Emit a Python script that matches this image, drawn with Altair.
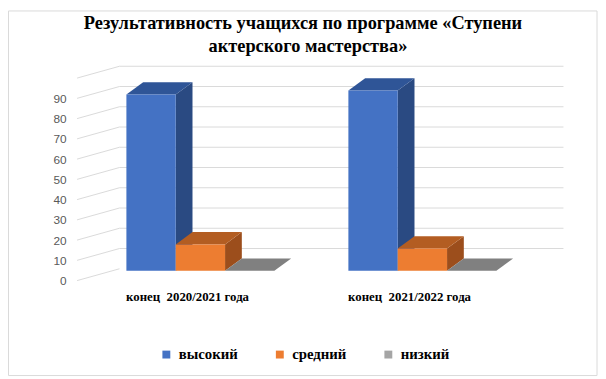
import altair as alt
import pandas as pd

# ---- data ----
categories = ["конец  2020/2021 года", "конец  2021/2022 года"]
series = ["высокий", "средний", "низкий"]
val_high = [87, 89]
val_mid = [13, 11]
val_low = [0, 0]
y_ticks = [0, 10, 20, 30, 40, 50, 60, 70, 80, 90]
grid_levels = [0, 10, 20, 30, 40, 50, 60, 70, 80, 90, 100]

front_colors = ["#4472C4", "#ED7D31", "#A5A5A5"]
top_colors = ["#2F5597", "#B35D22", "#808080"]
side_colors = ["#2A4A82", "#9C4E1C", "#6E6E6E"]

title_line1 = "Результативность учащихся по программе «Ступени"
title_line2 = "актерского мастерства»"

# ---- geometry (data units) ----
W, H = 520, 234
X_DOM = [0, 10.4]      # 50 px per unit
Y_DOM = [-4, 110]
PXY = H / (Y_DOM[1] - Y_DOM[0])
DX = 17 / 50.0          # bar depth offset, x units
DY = 12.5 / PXY         # bar depth offset, y units
BASE = 10 / PXY         # bars' front bottom sits behind the front edge
X0, GAP = 1.16, 4.5
GX0, GX1, GX2 = 0.16, 1.02, 10.02
GDY = 12 / PXY

values = [val_high, val_mid, val_low]
front, side, top = [], [], []
for g, cat in enumerate(categories):
    for s, ser in enumerate(series):
        v = values[s][g]
        xl = X0 + g * GAP + s
        xr = xl + 1
        bid = f"{g}-{s}"
        front.append(dict(series=ser, xl=xl, xr=xr, y0=BASE, y1=BASE + v))
        side.append(dict(bid=bid, c=side_colors[s], u=xr, t=BASE + v, b=BASE))
        side.append(dict(bid=bid, c=side_colors[s], u=xr + DX, t=BASE + v + DY, b=BASE + DY))
        top.append(dict(bid=bid, c=top_colors[s], yv=BASE + v, xa=xl, xb=xr))
        top.append(dict(bid=bid, c=top_colors[s], yv=BASE + v + DY, xa=xl + DX, xb=xr + DX))

front_df = pd.DataFrame(front)
side_df = pd.DataFrame(side)
top_df = pd.DataFrame(top)

diag_df = pd.DataFrame([dict(x=GX0, x2=GX1, y=lv, y2=lv + GDY) for lv in grid_levels])
horiz_df = pd.DataFrame([dict(x=GX1, x2=GX2, y=lv + GDY) for lv in grid_levels if lv > 0])
lab_df = pd.DataFrame([dict(cat=c.replace("  ", "\u00a0 "), x=X0 + g * GAP + 1.24)
                       for g, c in enumerate(categories)])

xs = alt.Scale(domain=X_DOM, nice=False, zero=False)
ys = alt.Scale(domain=Y_DOM, nice=False, zero=False)

one = pd.DataFrame({"a": [0]})

border = alt.Chart(one).mark_rect(
    fill=None, stroke="#D9D9D9", strokeWidth=1
).encode(x=alt.value(-61.5), x2=alt.value(535), y=alt.value(-47.5), y2=alt.value(322))

title1 = alt.Chart(one).mark_text(
    text=title_line1, font="Liberation Serif", fontSize=18.6, fontWeight="bold",
    color="#000000", align="center", baseline="alphabetic"
).encode(x=alt.value(237), y=alt.value(-29))
title2 = alt.Chart(one).mark_text(
    text=title_line2, font="Liberation Serif", fontSize=18.6, fontWeight="bold",
    color="#000000", align="center", baseline="alphabetic"
).encode(x=alt.value(242), y=alt.value(-6))

yaxis = alt.Axis(values=y_ticks, tickCount=len(y_ticks), grid=False, domain=False,
                 ticks=False, title=None, labelColor="#595959",
                 labelFont="Liberation Sans", labelFontSize=12,
                 labelPadding=3, labelOverlap=False, labelBound=False)

diag = alt.Chart(diag_df).mark_rule(color="#D9D9D9", strokeWidth=1).encode(
    x=alt.X("x:Q", scale=xs, axis=None), x2="x2:Q",
    y=alt.Y("y:Q", scale=ys, axis=yaxis),
    y2="y2:Q")

horiz = alt.Chart(horiz_df).mark_rule(color="#D9D9D9", strokeWidth=1).encode(
    x=alt.X("x:Q", scale=xs, axis=None), x2="x2:Q",
    y=alt.Y("y:Q", scale=ys, axis=yaxis))

side_l = alt.Chart(side_df).mark_area().encode(
    x=alt.X("u:Q", scale=xs, axis=None),
    y=alt.Y("t:Q", scale=ys, axis=yaxis), y2="b:Q",
    detail="bid:N", fill=alt.Fill("c:N", scale=None))

top_l = alt.Chart(top_df).mark_area(orient="horizontal").encode(
    y=alt.Y("yv:Q", scale=ys, axis=yaxis),
    x=alt.X("xa:Q", scale=xs, axis=None), x2="xb:Q",
    detail="bid:N", fill=alt.Fill("c:N", scale=None))

front_l = alt.Chart(front_df).mark_rect().encode(
    x=alt.X("xl:Q", scale=xs, axis=None), x2="xr:Q",
    y=alt.Y("y0:Q", scale=ys, axis=yaxis), y2="y1:Q",
    color=alt.Color("series:N", scale=alt.Scale(domain=series, range=front_colors),
                    legend=alt.Legend(
                        title=None, orient="none", direction="horizontal",
                        legendX=91, legendY=293, columns=3,
                        symbolType="square", symbolSize=64, symbolStrokeWidth=0,
                        labelFont="Liberation Serif", labelFontSize=15,
                        labelFontWeight="bold", labelColor="#000000",
                        labelOffset=5, columnPadding=35, padding=0)))

labels = alt.Chart(lab_df).mark_text(
    font="Liberation Serif", fontSize=13, fontWeight="bold", color="#000000",
    align="center", baseline="middle"
).encode(x=alt.X("x:Q", scale=xs, axis=None), y=alt.value(242), text="cat:N")

chart = alt.layer(border, title1, title2, diag, horiz, side_l, top_l, front_l, labels).properties(
    width=W, height=H,
    autosize=alt.AutoSizeParams(type="none"),
    padding={"left": 62, "top": 48, "right": 16, "bottom": 89},
).configure_view(stroke=None).configure_axis(labelOverlap=False)

chart.save("out.html", embed_options={"renderer": "svg", "actions": False})
